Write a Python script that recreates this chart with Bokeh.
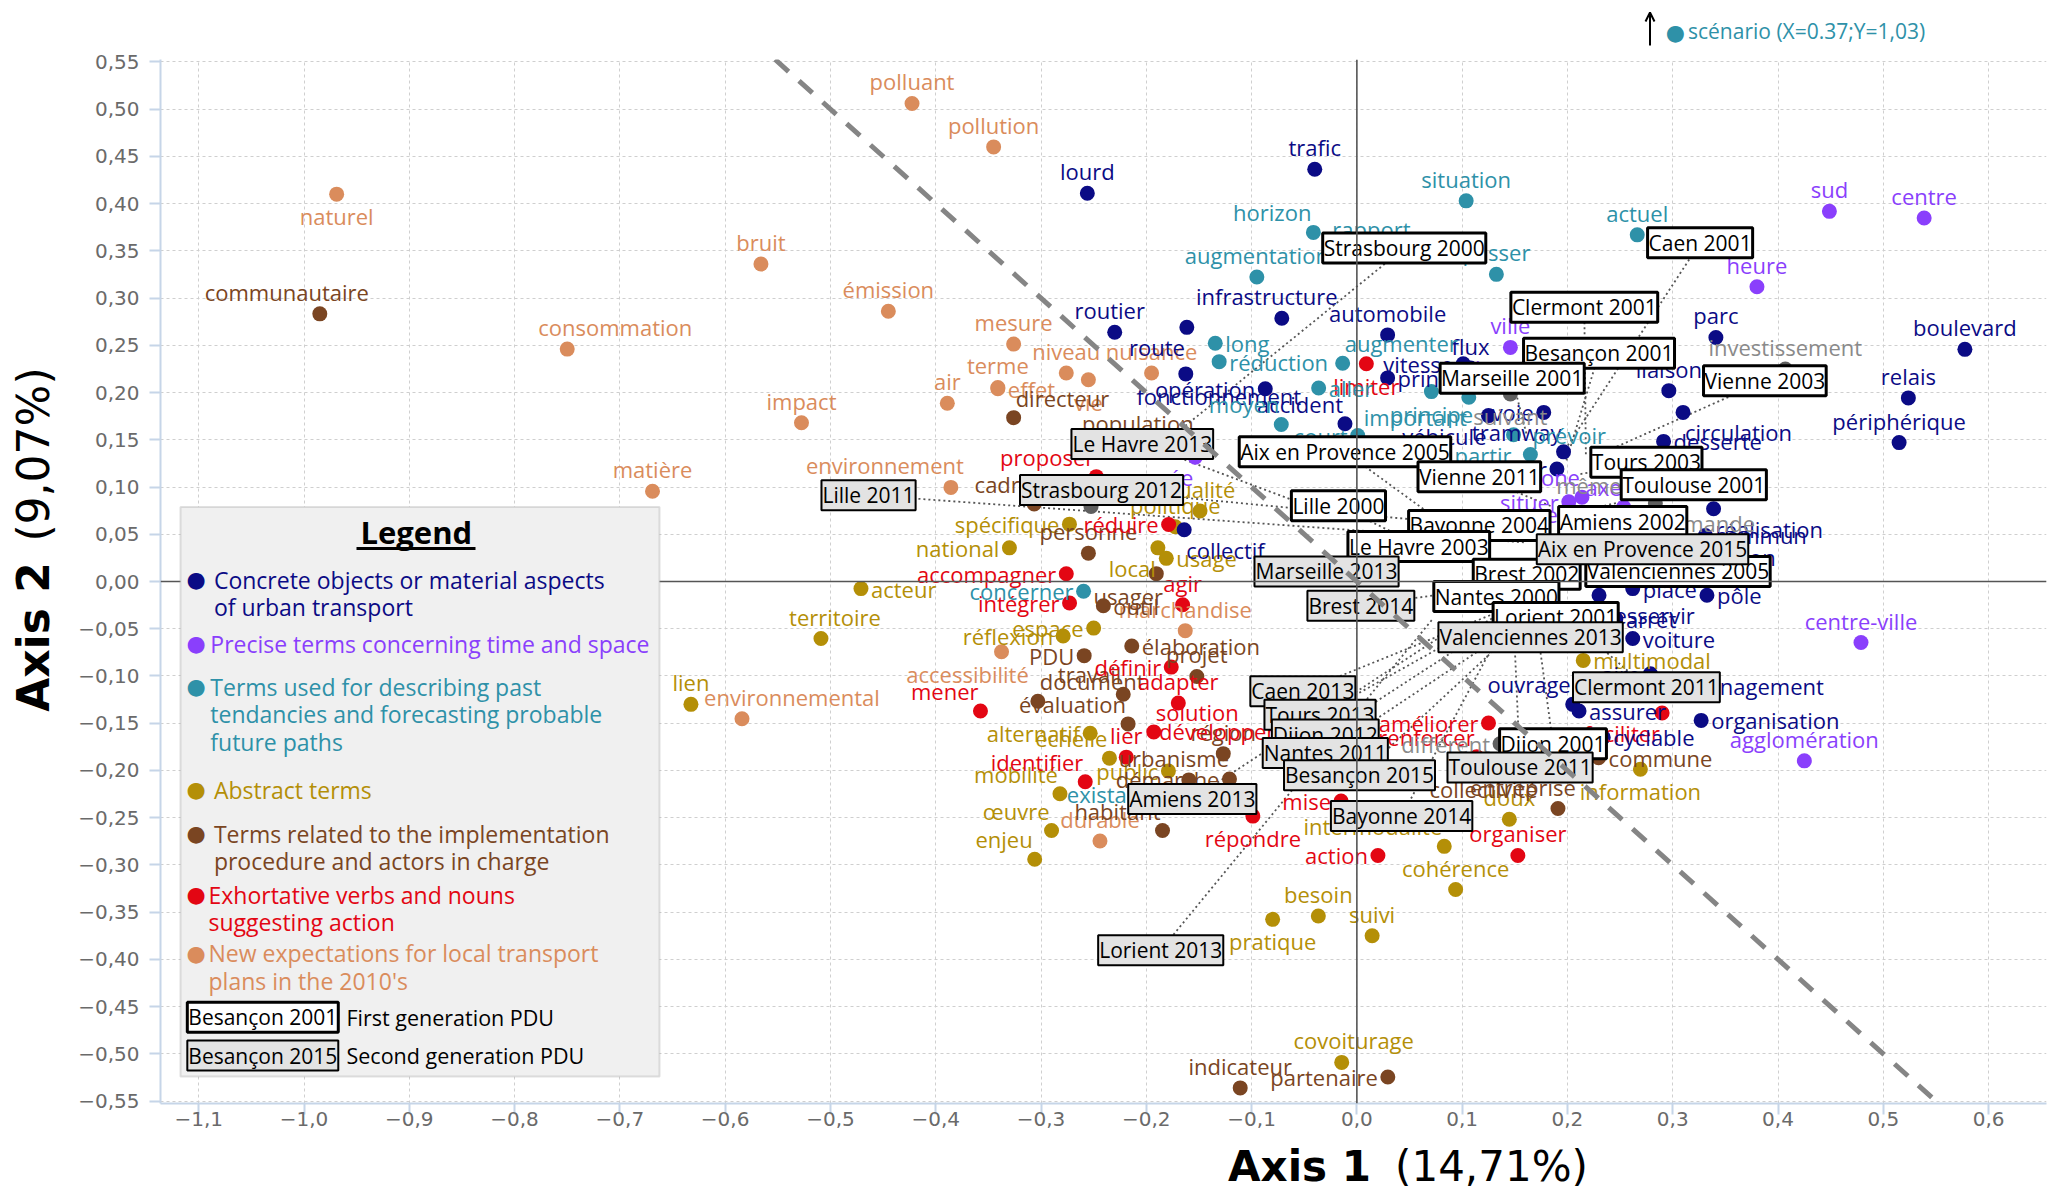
from bokeh.plotting import figure
from bokeh.layouts import column, row
from bokeh.models import (Range1d, FixedTicker, Span, Label, BoxAnnotation, ColumnDataSource, Slope, Arrow,
                          OpenHead)
from bokeh.core.properties import value, field
from bokeh.embed import file_html
from bokeh.resources import INLINE

# ---------------- data ----------------
X_TICKS = [-1.1, -1.0, -0.9, -0.8, -0.7, -0.6, -0.5, -0.4, -0.3, -0.2, -0.1, 0.0, 0.1, 0.2, 0.3, 0.4, 0.5, 0.6]
X_TICK_LABELS = ["\u22121,1", "\u22121,0", "\u22120,9", "\u22120,8", "\u22120,7", "\u22120,6", "\u22120,5", "\u22120,4",
                 "\u22120,3", "\u22120,2", "\u22120,1", "0,0", "0,1", "0,2", "0,3", "0,4", "0,5", "0,6"]
Y_TICKS = [0.55, 0.5, 0.45, 0.4, 0.35, 0.3, 0.25, 0.2, 0.15, 0.1, 0.05, 0.0,
           -0.05, -0.1, -0.15, -0.2, -0.25, -0.3, -0.35, -0.4, -0.45, -0.5, -0.55]
Y_TICK_LABELS = ["0,55", "0,50", "0,45", "0,40", "0,35", "0,30", "0,25", "0,20", "0,15", "0,10", "0,05", "0,00",
                 "\u22120,05", "\u22120,10", "\u22120,15", "\u22120,20", "\u22120,25", "\u22120,30", "\u22120,35",
                 "\u22120,40", "\u22120,45", "\u22120,50", "\u22120,55"]

CATEGORY_NAMES = {
    "c": ["Concrete objects or material aspects", "of urban transport"],
    "t": ["Precise terms concerning time and space"],
    "p": ["Terms used for describing past", "tendancies and forecasting probable", "future paths"],
    "a": ["Abstract terms"],
    "i": ["Terms related to the implementation", "procedure and actors in charge"],
    "e": ["Exhortative verbs and nouns", "suggesting action"],
    "n": ["New expectations for local transport", "plans in the 2010's"],
}

WORDS = ["polluant", "pollution", "naturel", "bruit", "émission", "consommation", "impact", "air", "matière", "mesure",
         "terme", "niveau", "effet", "vie", "nuisance", "environnement", "accessibilité", "marchandise", "durable",
         "environnemental",
         "lien", "territoire", "acteur", "national", "spécifique", "local", "usage", "qualité", "politique", "espace",
         "réflexion", "alternatif", "échelle", "mobilité", "public", "œuvre", "enjeu", "besoin", "pratique", "suivi",
         "covoiturage", "cohérence", "doux", "intermodalité", "multimodal", "information",
         "communautaire", "directeur", "population", "cadre", "personne", "usager", "outil", "élaboration", "PDU",
         "projet", "travail", "document", "évaluation", "région", "urbanisme", "démarche", "habitant", "indicateur",
         "partenaire", "entreprise", "commune", "collectivité",
         "proposer", "réduire", "accompagner", "intégrer", "agir", "définir", "adapter", "solution", "lier", "mener",
         "identifier", "développer", "répondre", "action", "organiser", "améliorer", "renforcer", "faciliter",
         "limiter", "mise",
         "lourd", "trafic", "infrastructure", "routier", "route", "fonctionnement", "opération", "automobile", "flux",
         "vitesse", "principal", "accident", "véhicule", "voie", "tramway", "échangeur", "boulevard", "parc", "relais",
         "périphérique", "liaison", "circulation", "desserte", "réalisation", "commun", "station", "pôle", "place",
         "desservir", "arrêt", "voiture", "aire", "aménagement", "organisation", "cyclable", "ouvrage", "assurer",
         "collectif",
         "sud", "centre", "heure", "ville", "jour", "année", "zone", "axe", "situer", "temps", "centre-ville",
         "agglomération",
         "situation", "horizon", "rapport", "actuel", "augmentation", "passer", "long", "réduction", "augmenter",
         "aller", "moyen", "court", "principe", "important", "partir", "prévoir", "concerner", "existant",
         "investissement", "suivant", "même", "demande", "différent", "thème", ""]

WORD_X = [-0.4225, -0.345, -0.969, -0.566, -0.445, -0.75, -0.5275, -0.389, -0.669, -0.326,
          -0.341, -0.276, -0.341, -0.255, -0.195, -0.3856, -0.3375, -0.163, -0.244, -0.584,
          -0.6325, -0.509, -0.471, -0.33, -0.273, -0.189, -0.181, -0.149, -0.1725, -0.25,
          -0.279, -0.2533, -0.235, -0.282, -0.179, -0.29, -0.306, -0.0366, -0.08, 0.0145,
          -0.0144, 0.0938, 0.1448, 0.083, 0.215, 0.2693,
          -0.985, -0.326, -0.189, -0.3065, -0.255, -0.1905, -0.2408, -0.2138, -0.259,
          -0.152, -0.2219, -0.303, -0.2173, -0.1269, -0.1596, -0.121, -0.1846, -0.1108,
          0.0294, 0.191, 0.2296, 0.1488,
          -0.2475, -0.1788, -0.276, -0.2729, -0.1655, -0.1763, -0.1696, -0.1929, -0.219, -0.3575,
          -0.258, -0.068, -0.0988, 0.02, 0.1529, 0.125, 0.1138, 0.2899, 0.009, -0.015,
          -0.256, -0.04, -0.0713, -0.230, -0.1615, -0.1625, -0.087, 0.0292, 0.108,
          0.101, 0.0292, -0.0113, 0.125, 0.1775, 0.1963, 0.19, 0.5775, 0.341, 0.5238,
          0.515, 0.2963, 0.3098, 0.2913, 0.3388, 0.331, 0.3288, 0.3325, 0.262,
          0.23, 0.246, 0.262, 0.2788, 0.2925, 0.327, 0.234, 0.205, 0.211,
          -0.164,
          0.4488, 0.5388, 0.38, 0.1458, 0.161, -0.1535, 0.2138, 0.2534, 0.2013, 0.2425, 0.4788,
          0.425,
          0.1038, -0.0413, 0.0138, 0.2663, -0.095, 0.1325, -0.1345, -0.1308, -0.0135,
          -0.0363, -0.0718, 0.0008, 0.0708, 0.1063, 0.1488, 0.1648, -0.2596, -0.1888,
          0.4069, 0.1458, 0.261, 0.2835, 0.136, -0.039, -0.2525]

WORD_Y = [0.506, 0.460, 0.410, 0.336, 0.286, 0.246, 0.168, 0.1886, 0.0955, 0.2513,
          0.2054, 0.2207, 0.204, 0.2136, 0.2207, 0.0996, -0.0744, -0.052, -0.2747, -0.1453,
          -0.13, -0.0604, -0.0075, 0.0356, 0.0607, 0.0356, 0.0245, 0.0746, 0.0579, -0.0493,
          -0.0577, -0.1606, -0.187, -0.2246, -0.2005, -0.2636, -0.294, -0.354, -0.3576, -0.375,
          -0.509, -0.326, -0.2516, -0.2803, -0.0835, -0.1987,
          0.2833, 0.1734, 0.144, 0.082, 0.030, 0.0083, -0.0256, -0.0683, -0.0785,
          -0.1005, -0.1194, -0.1268, -0.1507, -0.1822, -0.21, -0.209, -0.2636, -0.536,
          -0.5245, -0.2403, -0.1865, -0.1968,
          0.111, 0.0604, 0.0082, -0.0228, -0.0246, -0.0906, -0.1286, -0.1592, -0.1859, -0.137,
          -0.212, -0.1578, -0.2483, -0.29, -0.29, -0.1497, -0.1856, -0.1392, 0.2304, -0.2323,
          0.411, 0.4363, 0.2786, 0.2638, 0.269, 0.2197, 0.204, 0.261, 0.226,
          0.2304, 0.2155, 0.1669, 0.1756, 0.179, 0.1372, 0.119, 0.2457, 0.2583, 0.1943,
          0.147, 0.202, 0.179, 0.1483, 0.077, 0.0487, 0.005, -0.0145, -0.0075,
          -0.0145, -0.0395, -0.0604, -0.0976, -0.1108, -0.147, -0.165, -0.13, -0.137,
          0.0547,
          0.3918, 0.3848, 0.312, 0.2478, 0.2263, 0.1316, 0.0892, 0.0788, 0.0843, 0.0718, -0.0646,
          -0.1898,
          0.4029, 0.3695, 0.3499, 0.3669, 0.3223, 0.3251, 0.2522, 0.2327, 0.231,
          0.2048, 0.1662, 0.1545, 0.201, 0.195, 0.1554, 0.1344, -0.0103, -0.2246,
          0.2249, 0.1984, 0.102, 0.0829, -0.1718, 0.141, 0.0794]

WORD_CAT = (["n"] * 20 + ["a"] * 26 + ["i"] * 22 + ["e"] * 20 + ["c"] * 38 + ["t"] * 12 + ["p"] * 18 + ["g"] * 7)

PDU_NAMES = ["Strasbourg 2000", "Caen 2001", "Clermont 2001", "Besançon 2001", "Marseille 2001", "Vienne 2003",
             "Tours 2003", "Toulouse 2001", "Aix en Provence 2005", "Vienne 2011", "Lille 2000", "Bayonne 2004",
             "Amiens 2002", "Le Havre 2003", "Brest 2002", "Valenciennes 2005", "Nantes 2000", "Lorient 2001",
             "Dijon 2001",
             "Le Havre 2013", "Strasbourg 2012", "Lille 2011", "Aix en Provence 2015", "Marseille 2013",
             "Brest 2014", "Valenciennes 2013", "Clermont 2011", "Caen 2013", "Tours 2013", "Dijon 2012",
             "Nantes 2011", "Toulouse 2011", "Besançon 2015", "Amiens 2013", "Bayonne 2014", "Lorient 2013"]
PDU_GEN = [1] * 19 + [2] * 17
PDU_X = [-0.1888, 0.1988, 0.2175, 0.1988, 0.1613, 0.23, 0.2113, 0.23, 0.0863, 0.1863, 0.0488, 0.1113,
         0.1988, 0.1238, 0.1488, 0.2238, 0.1738, 0.1488, 0.1675,
         -0.0263, 0.0613, 0.1613, 0.1863, 0.0738, 0.1363, 0.1488, 0.1863, 0.1488, 0.1613, 0.1488,
         0.1613, 0.1488, 0.1488, 0.0863, 0.1363, 0.0725]
PDU_Y = [0.1413, 0.1413, 0.1344, 0.1275, 0.1553, 0.1344, 0.1135, 0.0788, 0.0579, 0.0788, 0.044, 0.03,
         0.0509, 0.03, 0.0231, 0.03, 0.0161, 0.0022, -0.0186,
         0.0718, 0.0648, 0.0412, 0.0161, 0.03, -0.0047, -0.0186, -0.0256, -0.0256, -0.0186, -0.0326,
         -0.0395, -0.0395, -0.0534, -0.0534, -0.0534, -0.0390]

SCENARIO_NOTE = "scénario (X=0.37;Y=1,03)"

# ---------------- layout / style ----------------
COLORS = {"c": "#0b0b85", "t": "#8a3ffc", "p": "#2e91a8", "a": "#b48f07", "i": "#7a4522",
          "e": "#e30613", "n": "#da8c5c", "g": "#8a8a8a"}
DOT_COLORS = dict(COLORS, g="#5f5f5f")

LABEL_PLACEMENT = {
    "naturel": "b", "consommation": ("a", 48, 0), "effet": "r", "vie": "b", "environnement": ("a", -66, 0),
    "accessibilité": ("b", -34, 0), "environnemental": ("a", 50, 0),
    "territoire": ("a", 14, 0), "acteur": "r", "national": "l", "spécifique": "l", "local": "bl", "usage": "r",
    "espace": "l", "réflexion": "l", "alternatif": "l", "échelle": "al", "mobilité": "al", "public": "l",
    "œuvre": "al", "enjeu": "al", "pratique": "b", "covoiturage": ("a", 12, 0), "intermodalité": "al",
    "multimodal": "r", "information": "b",
    "communautaire": ("a", -33, 0), "directeur": "ar", "population": ("a", -20, 0), "cadre": "al",
    "usager": ("b", -28, 0), "outil": "r", "élaboration": "r", "PDU": "l", "travail": "al", "document": "ar",
    "évaluation": "al", "urbanisme": ("a", -15, 0), "démarche": "l", "habitant": "al", "partenaire": "l",
    "entreprise": ("a", -35, 0), "commune": "r", "collectivité": ("b", -30, 0),
    "proposer": "al", "réduire": "l", "accompagner": "l", "intégrer": "l", "définir": "l", "solution": "ar",
    "mener": "al", "identifier": "al", "développer": "l", "répondre": "b", "action": "l", "améliorer": "l",
    "renforcer": "al", "faciliter": "bl", "limiter": "b", "mise": "l",
    "infrastructure": ("a", -15, 0), "routier": ("a", -5, 0), "route": "bl", "fonctionnement": ("b", 33, 0),
    "opération": "l", "vitesse": "l", "principal": "r", "accident": "al", "véhicule": "bl", "voie": "l",
    "tramway": "al", "échangeur": "l", "circulation": "br", "desserte": "r", "réalisation": "br", "commun": "r",
    "station": "ar", "pôle": "r", "place": "r", "desservir": "br", "arrêt": "r", "voiture": "r", "aire": "l",
    "aménagement": "r", "organisation": "r", "cyclable": "r", "ouvrage": "al", "assurer": "r", "collectif": "br",
    "jour": "l", "année": "bl", "zone": "al", "axe": "al", "situer": "l", "temps": "l",
    "horizon": "al", "long": "r", "réduction": "r", "augmenter": "ar", "aller": "r", "moyen": "al", "court": "l",
    "principe": "b", "important": "bl", "partir": "bl", "prévoir": "ar", "concerner": "l", "existant": "l",
    "suivant": "b", "même": "l", "demande": "br", "différent": "l", "thème": "l",
}
MODES = {
    "a": ("center", "bottom", 0, -7), "b": ("center", "top", 0, 7),
    "l": ("right", "middle", -10, 0), "r": ("left", "middle", 10, 0),
    "al": ("right", "bottom", -2, -5), "ar": ("left", "bottom", 2, -5),
    "bl": ("right", "top", -2, 5), "br": ("left", "top", 2, 5),
}

PDU_LABEL_AT = {
    "Strasbourg 2000": (0.045, 0.3529), "Caen 2001": (0.326, 0.3585), "Clermont 2001": (0.216, 0.2903),
    "Besançon 2001": (0.23, 0.2416), "Marseille 2001": (0.1475, 0.2151), "Vienne 2003": (0.3875, 0.2124),
    "Tours 2003": (0.275, 0.1261), "Toulouse 2001": (0.32, 0.1024), "Aix en Provence 2005": (-0.0113, 0.1372),
    "Vienne 2011": (0.1163, 0.1108), "Lille 2000": (-0.0175, 0.0802), "Bayonne 2004": (0.1163, 0.0593),
    "Amiens 2002": (0.2525, 0.0635), "Le Havre 2003": (0.0588, 0.037), "Brest 2002": (0.1613, 0.0078),
    "Valenciennes 2005": (0.305, 0.0106), "Nantes 2000": (0.1325, -0.0159), "Lorient 2001": (0.1888, -0.0381),
    "Dijon 2001": (0.1863, -0.1717),
    "Le Havre 2013": (-0.2038, 0.1456), "Strasbourg 2012": (-0.2425, 0.0969), "Lille 2011": (-0.4638, 0.0913),
    "Aix en Provence 2015": (0.2713, 0.0342), "Marseille 2013": (-0.0288, 0.0106), "Brest 2014": (0.0038, -0.0256),
    "Valenciennes 2013": (0.165, -0.059), "Clermont 2011": (0.275, -0.1119), "Caen 2013": (-0.0513, -0.1161),
    "Tours 2013": (-0.035, -0.1411), "Dijon 2012": (-0.03, -0.162), "Nantes 2011": (-0.03, -0.1815),
    "Toulouse 2011": (0.155, -0.1968), "Besançon 2015": (0.0025, -0.2051), "Amiens 2013": (-0.1563, -0.2302),
    "Bayonne 2014": (0.0425, -0.2483), "Lorient 2013": (-0.1863, -0.3902),
}

FONT = "Open Sans"
PAGE_W = 2055
TOP_H, MAIN_H, BOTTOM_H, LEFT_W = 48, 1093, 49, 70
FRAME_LEFT, FRAME_BOTTOM = 160, 1103
ROT_SHIFT = 36   # measured drift of rotated labels along their text direction


def scr(px, py):
    return px - FRAME_LEFT, FRAME_BOTTOM - py


def blank(width, height):
    f = figure(width=width, height=height, x_range=Range1d(0, 1), y_range=Range1d(0, 1), output_backend="svg",
               toolbar_location=None, min_border=0, min_border_left=0, min_border_right=0, min_border_top=0,
               min_border_bottom=0, x_axis_location=None, y_axis_location=None, title=None)
    f.grid.visible = False
    f.outline_line_color = None
    return f


p = figure(frame_width=1886, frame_height=1044, x_range=Range1d(-1.1363, 0.655), y_range=Range1d(-0.5525, 0.5525),
           output_backend="svg", toolbar_location=None, min_border_left=FRAME_LEFT - LEFT_W, min_border_right=9,
           min_border_top=11, min_border_bottom=MAIN_H - 11 - 1044, title=None)
p.outline_line_color = None

for ax, ticks, labels in ((p.xaxis[0], X_TICKS, X_TICK_LABELS), (p.yaxis[0], Y_TICKS, Y_TICK_LABELS)):
    ax.ticker = FixedTicker(ticks=ticks)
    ax.major_label_overrides = {t: l for t, l in zip(ticks, labels)}
    ax.axis_line_color = "#c6d5e8"
    ax.axis_line_width = 2
    ax.major_tick_line_color = "#c6d5e8"
    ax.major_tick_line_width = 2
    ax.major_tick_out = 11
    ax.major_tick_in = 0
    ax.minor_tick_line_color = None
    ax.major_label_text_font = "DejaVu Sans"
    ax.major_label_text_font_size = "20px"
    ax.major_label_text_color = "#6a6a6a"
p.xaxis.major_label_standoff = -3
p.yaxis.major_label_standoff = 10

for g in (p.xgrid[0], p.ygrid[0]):
    g.grid_line_color = "#cfcfcf"
    g.grid_line_dash = "3 3"
    g.grid_line_width = 1
p.xgrid.ticker = FixedTicker(ticks=X_TICKS)
p.ygrid.ticker = FixedTicker(ticks=Y_TICKS)

p.add_layout(Span(location=0, dimension="height", line_color="#555555", line_width=1.6))
p.add_layout(Span(location=0, dimension="width", line_color="#555555", line_width=1.6))
p.add_layout(Slope(gradient=-1, y_intercept=0, line_color="#858585", line_width=5, line_dash="18 14"))

lx = [PDU_LABEL_AT[n][0] for n in PDU_NAMES]
ly = [PDU_LABEL_AT[n][1] for n in PDU_NAMES]
p.segment(x0=lx, y0=ly, x1=PDU_X, y1=PDU_Y, line_color="#555555", line_width=1.8, line_dash="2 3")

aligns, bases, dxs, dys = [], [], [], []
for w in WORDS:
    spec = LABEL_PLACEMENT.get(w, "a")
    extra = (0, 0)
    if isinstance(spec, tuple):
        spec, extra = spec[0], (spec[1], spec[2])
    a, b, dx, dy = MODES[spec]
    aligns.append(a)
    bases.append(b)
    dxs.append(dx + extra[0])
    dys.append(dy + extra[1])

src = ColumnDataSource(dict(x=WORD_X, y=WORD_Y, word=WORDS, color=[COLORS[c] for c in WORD_CAT],
                            dot=[DOT_COLORS[c] for c in WORD_CAT], align=aligns, base=bases, dx=dxs, dy=dys))
p.scatter("x", "y", source=src, size=15, fill_color=field("dot"), line_color=None)
p.text("x", "y", text="word", source=src, text_color=field("color"), text_align=field("align"),
       text_baseline=field("base"), x_offset="dx", y_offset="dy", text_font=value(FONT), text_font_size="22px")

for gen, fill, bw in ((1, "white", 3), (2, "#e3e3e3", 2)):
    names = [n for n, g in zip(PDU_NAMES, PDU_GEN) if g == gen]
    bsrc = ColumnDataSource(dict(x=[PDU_LABEL_AT[n][0] for n in names], y=[PDU_LABEL_AT[n][1] for n in names],
                                 name=names))
    p.text("x", "y", text="name", source=bsrc, text_color="black", text_align="center", text_baseline="middle",
           text_font=value(FONT), text_font_size="21px", background_fill_color=fill,
           border_line_color="black", border_line_width=bw, padding=1)

l0, t0 = scr(180, 506.5)
r0, b0 = scr(659, 1076)
p.add_layout(BoxAnnotation(left=l0, right=r0, top=t0, bottom=b0, left_units="screen", right_units="screen",
                           top_units="screen", bottom_units="screen", fill_color="#f0f0f0", fill_alpha=1,
                           line_color="#9a9a9a", line_width=2))
tx, ty = scr(415.8, 531.5)
p.add_layout(Label(x=tx, y=ty, x_units="screen", y_units="screen", text="Legend", text_font=FONT,
                   text_font_style="bold", text_font_size="31px", text_align="center", text_baseline="middle",
                   text_color="black"))
ul, ut = scr(356, 546.5)
ur, ub = scr(475, 549.5)
p.add_layout(BoxAnnotation(left=ul, right=ur, top=ut, bottom=ub, left_units="screen", right_units="screen",
                           top_units="screen", bottom_units="screen", fill_color="black", fill_alpha=1,
                           line_color=None))
LEGEND_ROWS_Y = {"c": 579, "t": 643.3, "p": 686, "a": 789.3, "i": 833.3, "e": 894.3, "n": 952.7}
LEGEND_TEXT_X = {"c": 213.4, "t": 209.8, "p": 209.8, "a": 213.4, "i": 213.4, "e": 208, "n": 208}
for cat in ["c", "t", "p", "a", "i", "e", "n"]:
    dx_, dy_ = scr(195.5, LEGEND_ROWS_Y[cat])
    p.add_layout(Label(x=dx_, y=dy_, x_units="screen", y_units="screen", text="\u25cf", text_font="DejaVu Sans",
                       text_font_size="22px", text_align="center", text_baseline="middle",
                       text_color=DOT_COLORS[cat]))
    for k, line in enumerate(CATEGORY_NAMES[cat]):
        lx_, ly_ = scr(LEGEND_TEXT_X[cat], LEGEND_ROWS_Y[cat] + 27.6 * k)
        p.add_layout(Label(x=lx_, y=ly_, x_units="screen", y_units="screen", text=line, text_font=FONT,
                           text_font_size="23px", text_align="left", text_baseline="middle",
                           text_color=COLORS[cat]))
for (name, desc, fill, bw, py) in (("Besançon 2001", "First generation PDU", "white", 3, 1016.7),
                                   ("Besançon 2015", "Second generation PDU", "#e3e3e3", 2, 1055)):
    bx, by = scr(262.3, py)
    p.add_layout(Label(x=bx, y=by, x_units="screen", y_units="screen", text=name, text_font=FONT,
                       text_font_size="21px", text_align="center", text_baseline="middle", text_color="black",
                       background_fill_color=fill, background_fill_alpha=1, border_line_color="black",
                       border_line_width=bw, padding=1))
    dx_, dy_ = scr(346, py)
    p.add_layout(Label(x=dx_, y=dy_, x_units="screen", y_units="screen", text=desc, text_font=FONT,
                       text_font_size="21.5px", text_align="left", text_baseline="middle", text_color="black"))

# ---------------- titles around the plot ----------------
top = blank(PAGE_W, TOP_H)
top.add_layout(Arrow(x_start=1649.5, y_start=TOP_H - 45, x_end=1649.5, y_end=TOP_H - 12,
                     start_units="screen", end_units="screen", line_color="black", line_width=2,
                     end=OpenHead(size=9, line_width=2, line_color="black")))
top.add_layout(Label(x=1674.8, y=TOP_H - 31.5, x_units="screen", y_units="screen", text="\u25cf",
                     text_font="DejaVu Sans", text_font_size="22px", text_align="center", text_baseline="middle",
                     text_color=COLORS["p"]))
top.add_layout(Label(x=1687.5, y=TOP_H - 30, x_units="screen", y_units="screen", text=SCENARIO_NOTE,
                     text_font=FONT, text_font_size="21px", text_align="left", text_baseline="middle",
                     text_color=COLORS["p"]))

left = blank(LEFT_W, MAIN_H)
left.add_layout(Label(x=33, y=MAIN_H - (638.5 + ROT_SHIFT - TOP_H), x_units="screen", y_units="screen",
                      text="Axis 2", text_font="DejaVu Sans", text_font_style="bold", text_font_size="44px",
                      text_align="center", text_baseline="middle", text_color="black", angle=1.5707963))
left.add_layout(Label(x=33, y=MAIN_H - (456 + ROT_SHIFT - TOP_H), x_units="screen", y_units="screen",
                      text="(9,07%)", text_font="DejaVu Sans", text_font_size="44px", text_align="center",
                      text_baseline="middle", text_color="black", angle=1.5707963))

bottom = blank(PAGE_W, BOTTOM_H)
bottom.add_layout(Label(x=1299, y=24.5, x_units="screen", y_units="screen", text="Axis 1",
                        text_font="DejaVu Sans", text_font_style="bold", text_font_size="42px", text_align="center",
                        text_baseline="middle", text_color="black"))
bottom.add_layout(Label(x=1491, y=24.5, x_units="screen", y_units="screen", text="(14,71%)",
                        text_font="DejaVu Sans", text_font_size="42px", text_align="center",
                        text_baseline="middle", text_color="black"))

layout = column(top, row(left, p), bottom)
open("out.html", "w").write(file_html(layout, INLINE))
